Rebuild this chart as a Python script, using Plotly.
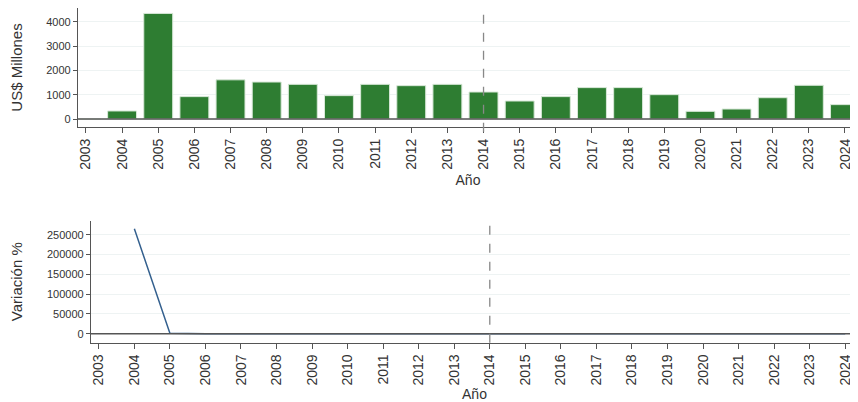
import plotly.graph_objects as go

years = list(range(2003, 2025))
inversion = [0.125, 330, 4340, 920, 1610, 1520, 1425, 960, 1425, 1370, 1425,
             1110, 740, 920, 1290, 1290, 1000, 315, 410, 875, 1385, 590]
var_years = list(range(2004, 2025))
variacion = [265000, 1215, -79, 75, -6, -6, -33, 49, -4, 4, -22,
             -33, 24, 40, 0, -22, -69, 30, 113, 58, -57]
tick_labels = [str(y) for y in years]

FONT = "Liberation Sans, Arial, sans-serif"
AXC = "#555555"
GRID = "#eef3f3"
TXT = "#333333"

# page body has an 8px margin; figure is sized to fit inside the window
W = 850.0
H = 394.0
OFF = 8.0

def fy(py):
    return 1 - (py - OFF) / H

def fx(px):
    return (px - OFF) / W

fig = go.Figure()
fig.add_trace(go.Bar(x=years, y=inversion,
                     marker=dict(color="#2e7d32", line=dict(color="#d8e8d8", width=1)),
                     width=0.8, xaxis="x", yaxis="y", showlegend=False))
fig.add_trace(go.Scatter(x=var_years, y=variacion, mode="lines",
                         line=dict(color="#34608e", width=1.5),
                         xaxis="x2", yaxis="y2", showlegend=False))

xcommon = dict(tickmode="array", tickvals=years, ticktext=tick_labels, tickangle=-90,
               tickfont=dict(size=14, color=TXT, family=FONT), ticks="outside", ticklen=5,
               tickcolor=AXC, showline=True, linecolor=AXC, linewidth=1.2, showgrid=False,
               zeroline=False, automargin=False, range=[2002.78, 2024.36],
               title=dict(text="Año", font=dict(size=14, color=TXT, family=FONT), standoff=6))
ycommon = dict(tickfont=dict(size=11, color=TXT, family=FONT), ticks="outside", ticklen=4,
               tickcolor=AXC, showline=True, linecolor=AXC, linewidth=1.2, showgrid=True,
               gridcolor=GRID, gridwidth=1, zeroline=False, automargin=False, tickformat="d")

fig.update_layout(
    width=int(W), height=int(H), margin=dict(l=0, r=0, t=0, b=0),
    paper_bgcolor="white", plot_bgcolor="white", template="none",
    font=dict(family=FONT, color=TXT),
    xaxis=dict(domain=[fx(78), 1], anchor="y", **xcommon),
    yaxis=dict(domain=[fy(127), 1], anchor="x", range=[-329, 4563],
               tickvals=[0, 1000, 2000, 3000, 4000],
               title=dict(text="US$ Millones", font=dict(size=15, color=TXT, family=FONT), standoff=20),
               **ycommon),
    xaxis2=dict(domain=[fx(91), 1], anchor="y2", **xcommon),
    yaxis2=dict(domain=[fy(342.7), fy(220.7)], anchor="x2", range=[-22700, 285300],
                tickvals=[0, 50000, 100000, 150000, 200000, 250000],
                title=dict(text="Variación %", font=dict(size=15, color=TXT, family=FONT), standoff=20),
                **ycommon),
)

# zero lines drawn above traces
fig.add_shape(type="line", xref="x domain", yref="y", x0=0, x1=1, y0=0, y1=0,
              line=dict(color=AXC, width=1.5), layer="above")
fig.add_shape(type="line", xref="x2 domain", yref="y2", x0=0, x1=1, y0=0, y1=0,
              line=dict(color=AXC, width=1.5), layer="above")

fig.add_shape(type="line", xref="x", yref="y domain", x0=2014, x1=2014, y0=-0.04, y1=0.99,
              line=dict(color="#888888", width=1.3, dash="dash"))
fig.add_shape(type="line", xref="x2", yref="y2 domain", x0=2014, x1=2014, y0=0, y1=0.98,
              line=dict(color="#888888", width=1.3, dash="dash"))

fig.write_html("out.html")
